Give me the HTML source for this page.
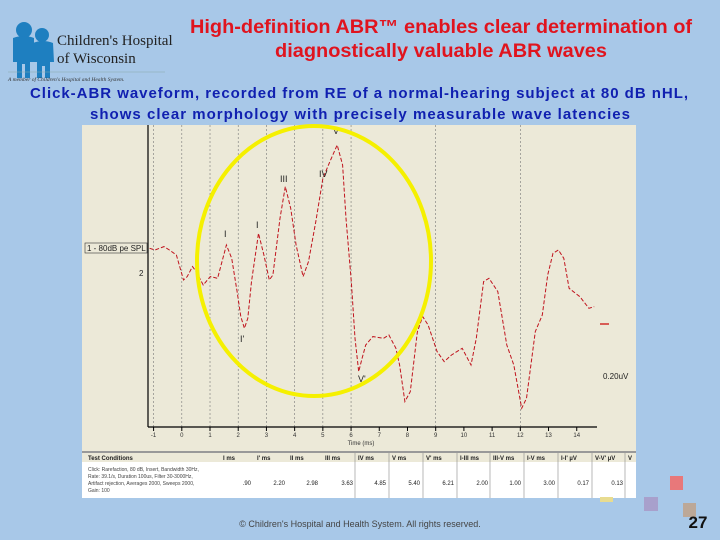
<!DOCTYPE html>
<html><head><meta charset="utf-8">
<style>
body{margin:0;width:720px;height:540px;background:#a8c8e8;overflow:hidden;position:relative;font-family:"Liberation Sans",sans-serif}
.abs{position:absolute}
</style></head>
<body>
<svg class="abs" style="left:0;top:0" width="720" height="540">
  <g>
    <circle cx="24" cy="30" r="8" fill="#1e7fc0"/>
    <circle cx="42" cy="35" r="7" fill="#1e7fc0"/>
    <path d="M13 38 Q24 34 34 38 L34 62 L30 62 L30 78 L25 78 L25 64 L22 64 L22 78 L17 78 L17 62 L13 62Z" fill="#1e7fc0"/>
    <path d="M33 43 Q43 39 53 43 L54 62 L50 62 L50 78 L45 78 L45 66 L42 66 L42 78 L37 78 L37 62 L33 62Z" fill="#1e7fc0"/>
    <text x="57" y="45" font-family="Liberation Serif,serif" font-size="15" fill="#222">Children's Hospital</text>
    <text x="57" y="63" font-family="Liberation Serif,serif" font-size="15" fill="#222">of Wisconsin</text>
    <line x1="8" y1="72" x2="165" y2="72" stroke="#8aa" stroke-width="0.6"/>
    <text x="8" y="81" font-family="Liberation Serif,serif" font-style="italic" font-size="5.5" fill="#333">A member of Children's Hospital and Health System.</text>
  </g>
  <text x="190" y="33" textLength="502" lengthAdjust="spacingAndGlyphs" font-size="19" font-weight="bold" fill="#e0141e">High-definition ABR™ enables clear determination of</text>
  <text x="275" y="57" textLength="332" lengthAdjust="spacingAndGlyphs" font-size="19" font-weight="bold" fill="#e0141e">diagnostically valuable ABR waves</text>
  <text x="30" y="98" textLength="658" lengthAdjust="spacing" font-size="15" font-weight="bold" fill="#1020b0">Click-ABR waveform, recorded from RE of a normal-hearing subject at 80 dB nHL,</text>
  <text x="90" y="119" textLength="540" lengthAdjust="spacing" font-size="15" font-weight="bold" fill="#1020b0">shows clear morphology with precisely measurable wave latencies</text>

  <rect x="82" y="125" width="554" height="373" fill="#ece9d8"/>
  <g id="grid"></g>
  <line x1="148" y1="125" x2="148" y2="427" stroke="#000" stroke-width="1.2"/>
  <line x1="148" y1="427" x2="597" y2="427" stroke="#000" stroke-width="1.2"/>
  <g id="ticks"></g>
  <text x="361" y="445" font-size="6" fill="#333" text-anchor="middle">Time (ms)</text>
  <rect x="85" y="243" width="62" height="10" fill="#ece9d8" stroke="#333" stroke-width="0.6"/>
  <text x="87" y="251" font-size="8" fill="#222">1 - 80dB pe SPL</text>
  <text x="139" y="276" font-size="8" fill="#222">2</text>
  <text x="603" y="379" font-size="8" fill="#222">0.20uV</text>
  <line x1="600" y1="324" x2="609" y2="324" stroke="#c00" stroke-width="1.2"/>
  <path id="wave" fill="none" stroke="#c0141e" stroke-width="1" stroke-dasharray="4,2"/>
  <g font-size="9" fill="#222">
    <text x="224" y="237">I</text>
    <text x="256" y="228">I</text>
    <text x="280" y="182">III</text>
    <text x="319" y="177">IV</text>
    <text x="333" y="134">V</text>
    <text x="240" y="342">I'</text>
    <text x="358" y="382">V'</text>
  </g>
  <ellipse cx="314" cy="261" rx="117" ry="135" fill="none" stroke="#f5f000" stroke-width="4"/>

  <g>
    <rect x="82" y="451" width="554" height="2" fill="#999"/>
    <rect x="82" y="453" width="554" height="9" fill="#ece9d8"/>
    <rect x="82" y="462" width="554" height="36" fill="#fff"/>
    <g id="tbl" font-size="6" fill="#222"></g>
    <text x="88" y="471" font-size="5" fill="#444">Click: Rarefaction, 80 dB, Insert, Bandwidth 30Hz,</text>
    <text x="88" y="478" font-size="5" fill="#444">Rate: 39.1/s, Duration 100us, Filter 30-3000Hz,</text>
    <text x="88" y="485" font-size="5" fill="#444">Artifact rejection, Averages 2000, Sweeps 2000,</text>
    <text x="88" y="492" font-size="5" fill="#444">Gain: 100</text>
  </g>

  <rect x="600" y="497" width="13" height="5" fill="#e8dc90"/>
  <rect x="670" y="476" width="13" height="14" fill="#e8787a"/>
  <rect x="644" y="497" width="14" height="14" fill="#a8a0cc"/>
  <rect x="683" y="503" width="13" height="14" fill="#bca898"/>
  <text x="360" y="527" text-anchor="middle" font-size="9" fill="#444">© Children's Hospital and Health System. All rights reserved.</text>
  <text x="698" y="528" text-anchor="middle" font-size="17" font-weight="bold" fill="#111">27</text>
</svg>
<script>
const latencies=[-1.14,-0.95,-0.63,-0.44,-0.19,0.06,0.19,0.38,0.51,0.76,1.01,1.27,1.58,1.77,1.96,2.09,2.22,2.34,2.47,2.72,2.91,3.10,3.23,3.48,3.67,3.86,4.05,4.30,4.49,4.75,5.00,5.25,5.51,5.70,5.82,6.01,6.14,6.27,6.39,6.52,6.77,7.15,7.34,7.59,7.72,7.91,8.10,8.35,8.54,8.73,9.05,9.30,9.56,9.94,10.25,10.44,10.70,10.89,11.20,11.52,11.77,12.05,12.22,12.53,12.78,12.97,13.16,13.35,13.54,13.73,14.11,14.43,14.62];
const amplitudes=[0,-0.05,0.05,-0.05,-0.2,-0.95,-0.85,-0.55,-0.7,-1.1,-0.85,-0.9,0.1,-0.3,-1.3,-2.05,-2.4,-2.1,-1.0,0.45,-0.2,-0.95,-0.8,0.9,1.85,1.2,0.1,-0.85,-0.4,0.8,2.1,2.6,3.1,2.5,0.9,-1.0,-2.7,-3.7,-3.3,-2.9,-2.65,-2.7,-2.6,-3.0,-3.5,-4.6,-4.3,-2.5,-2.05,-2.3,-3.1,-3.4,-3.2,-3.0,-3.5,-2.7,-1.0,-0.9,-1.3,-2.9,-3.5,-4.8,-4.5,-2.5,-2.0,-0.8,-0.15,-0.05,-0.3,-1.2,-1.45,-1.8,-1.75];
const xTicks=[-1,0,1,2,3,4,5,6,7,8,9,10,11,12,13,14];
const gridTimes=[-1,0,1,2,3,4,5,6,9,12];
const headers=["Test Conditions","I ms","I' ms","II ms","III ms","IV ms","V ms","V' ms","I-III ms","III-V ms","I-V ms","I-I' µV","V-V' µV","V"];
const values=["",".90","2.20","2.98","3.63","4.85","5.40","6.21","2.00","1.00","3.00","0.17","0.13",""];
const X=t=>181.8+28.21*t, Y=a=>248.3-33.33*a;
const NS="http://www.w3.org/2000/svg";
let d="";latencies.forEach((t,i)=>{d+=(i?"L":"M")+X(t).toFixed(1)+" "+Y(amplitudes[i]).toFixed(1);});
document.getElementById('wave').setAttribute('d',d);
const g=document.getElementById('grid');
gridTimes.forEach(t=>{const l=document.createElementNS(NS,'line');


l.setAttribute('x1',X(t));l.setAttribute('x2',X(t));l.setAttribute('y1',125);l.setAttribute('y2',427);
l.setAttribute('stroke','#777');l.setAttribute('stroke-width','0.6');l.setAttribute('stroke-dasharray','2,2');g.appendChild(l);});
const tk=document.getElementById('ticks');
xTicks.forEach(t=>{const l=document.createElementNS(NS,'line');


l.setAttribute('x1',X(t));l.setAttribute('x2',X(t));l.setAttribute('y1',427);l.setAttribute('y2',431);l.setAttribute('stroke','#000');tk.appendChild(l);
const s=document.createElementNS(NS,'text');


s.setAttribute('x',X(t));s.setAttribute('y',437);s.setAttribute('font-size','6');s.setAttribute('text-anchor','middle');s.setAttribute('fill','#333');s.textContent=t;tk.appendChild(s);});
const colX=[88,223,257,290,325,358,392,426,460,493,527,561,595,628];
const tb=document.getElementById('tbl');
headers.forEach((h,i)=>{const s=document.createElementNS(NS,'text');


s.setAttribute('x',colX[i]);s.setAttribute('y',460);s.setAttribute('font-weight','bold');s.textContent=h;tb.appendChild(s);
if(i>4){const l=document.createElementNS(NS,'line');


l.setAttribute('x1',colX[i]-3);l.setAttribute('x2',colX[i]-3);l.setAttribute('y1',453);l.setAttribute('y2',498);l.setAttribute('stroke','#888');l.setAttribute('stroke-width','0.6');tb.appendChild(l);}
const v=document.createElementNS(NS,'text');


v.setAttribute('x',colX[i]+28);v.setAttribute('y',485);v.setAttribute('text-anchor','end');v.textContent=values[i];tb.appendChild(v);});
</script>
</body></html>
